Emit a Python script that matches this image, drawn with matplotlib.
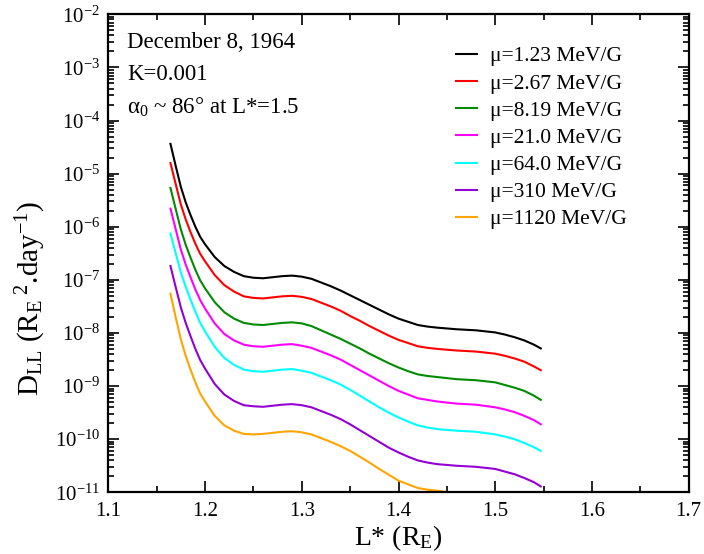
import numpy as np
import matplotlib
matplotlib.use("Agg")
import matplotlib.pyplot as plt
from matplotlib.ticker import FixedLocator, MultipleLocator, NullFormatter, FormatStrFormatter, LogFormatterSciNotation

plt.rcParams['font.family'] = ['Liberation Serif', 'DejaVu Serif']
plt.rcParams['mathtext.fontset'] = 'stix'
plt.rcParams['mathtext.default'] = 'regular'

# L* grid (R_E)
L_grid = [1.164, 1.17, 1.175, 1.18, 1.185, 1.19, 1.195, 1.20, 1.21, 1.22, 1.23, 1.24,
          1.25, 1.26, 1.27, 1.28, 1.29, 1.30, 1.31, 1.32, 1.33, 1.34, 1.35, 1.36,
          1.37, 1.38, 1.39, 1.40, 1.41, 1.42, 1.43, 1.44, 1.46, 1.48, 1.50, 1.51,
          1.52, 1.53, 1.54, 1.548]
L_orange = [1.164, 1.17, 1.175, 1.18, 1.185, 1.19, 1.195, 1.20, 1.21, 1.22, 1.23, 1.24,
            1.25, 1.26, 1.27, 1.28, 1.29, 1.30, 1.31, 1.32, 1.33, 1.34, 1.35, 1.36,
            1.37, 1.38, 1.39, 1.40, 1.41, 1.42, 1.43, 1.44, 1.46]

# log10(D_LL)
log_mu_1_23 = [-4.42, -4.88, -5.25, -5.54, -5.78, -6.00, -6.19, -6.33, -6.57, -6.74, -6.85, -6.93,
               -6.96, -6.97, -6.95, -6.93, -6.92, -6.94, -6.98, -7.05, -7.12, -7.20, -7.29, -7.38,
               -7.47, -7.56, -7.65, -7.73, -7.79, -7.85, -7.88, -7.90, -7.93, -7.95, -7.99, -8.03,
               -8.08, -8.14, -8.22, -8.30]
log_mu_2_67 = [-4.78, -5.22, -5.58, -5.86, -6.10, -6.32, -6.51, -6.65, -6.91, -7.10, -7.22, -7.31,
               -7.34, -7.35, -7.33, -7.31, -7.30, -7.32, -7.36, -7.43, -7.50, -7.58, -7.68, -7.77,
               -7.87, -7.96, -8.05, -8.13, -8.19, -8.25, -8.28, -8.30, -8.33, -8.35, -8.39, -8.43,
               -8.48, -8.54, -8.63, -8.71]
log_mu_8_19 = [-5.25, -5.69, -6.05, -6.34, -6.58, -6.81, -7.01, -7.16, -7.42, -7.61, -7.73, -7.81,
               -7.84, -7.85, -7.83, -7.81, -7.80, -7.82, -7.87, -7.95, -8.03, -8.11, -8.20, -8.29,
               -8.39, -8.48, -8.57, -8.65, -8.72, -8.78, -8.81, -8.83, -8.87, -8.89, -8.93, -8.98,
               -9.03, -9.09, -9.18, -9.27]
log_mu_21_0 = [-5.64, -6.07, -6.43, -6.71, -6.95, -7.18, -7.38, -7.54, -7.82, -8.02, -8.14, -8.22,
               -8.25, -8.26, -8.24, -8.22, -8.21, -8.24, -8.28, -8.35, -8.42, -8.50, -8.60, -8.70,
               -8.80, -8.90, -9.00, -9.09, -9.16, -9.23, -9.26, -9.29, -9.33, -9.35, -9.40, -9.44,
               -9.49, -9.56, -9.64, -9.73]
log_mu_64_0 = [-6.11, -6.52, -6.86, -7.13, -7.37, -7.60, -7.81, -7.97, -8.26, -8.47, -8.60, -8.69,
               -8.72, -8.73, -8.71, -8.69, -8.68, -8.71, -8.75, -8.82, -8.89, -8.97, -9.07, -9.18,
               -9.29, -9.40, -9.50, -9.59, -9.67, -9.74, -9.78, -9.81, -9.84, -9.86, -9.91, -9.95,
               -10.00, -10.07, -10.15, -10.23]
log_mu_310 = [-6.72, -7.16, -7.52, -7.81, -8.06, -8.30, -8.51, -8.67, -8.96, -9.16, -9.28, -9.36,
              -9.38, -9.39, -9.37, -9.35, -9.34, -9.36, -9.40, -9.47, -9.54, -9.62, -9.72, -9.83,
              -9.94, -10.05, -10.16, -10.25, -10.33, -10.40, -10.44, -10.47, -10.50, -10.52, -10.56, -10.61,
              -10.66, -10.73, -10.81, -10.90]
log_mu_1120 = [-7.24, -7.73, -8.12, -8.43, -8.69, -8.93, -9.14, -9.29, -9.56, -9.74, -9.84, -9.90,
               -9.91, -9.90, -9.88, -9.86, -9.85, -9.87, -9.91, -9.98, -10.05, -10.13, -10.22, -10.33,
               -10.44, -10.56, -10.67, -10.78, -10.85, -10.92, -10.95, -10.97, -11.02]

labels = ["μ=1.23 MeV/G", "μ=2.67 MeV/G", "μ=8.19 MeV/G", "μ=21.0 MeV/G",
          "μ=64.0 MeV/G", "μ=310 MeV/G", "μ=1120 MeV/G"]
colors = ["#000000", "#ff0000", "#008b00", "#ff00ff", "#00ffff", "#9400d3", "#ffa500"]

y_decades = list(range(-11, -1))   # 1e-11 ... 1e-2

series = [(L_grid, log_mu_1_23), (L_grid, log_mu_2_67), (L_grid, log_mu_8_19),
          (L_grid, log_mu_21_0), (L_grid, log_mu_64_0), (L_grid, log_mu_310),
          (L_orange, log_mu_1120)]

fig = plt.figure(figsize=(7.04, 5.54), dpi=100)
ax = fig.add_axes([108.3 / 704, 1 - 492.3 / 554, 580.4 / 704, 478.0 / 554])

for (xs, ys), lab, col in zip(series, labels, colors):
    ax.plot(xs, 10.0 ** np.array(ys), color=col, lw=1.5, label=lab,
            solid_joinstyle='round', solid_capstyle='butt')

ax.set_yscale('log')
ax.set_xlim(1.1, 1.7)
ax.set_ylim(10.0 ** y_decades[0], 10.0 ** y_decades[-1])
ax.xaxis.set_major_locator(MultipleLocator(0.1))
ax.xaxis.set_minor_locator(MultipleLocator(0.05))
major_y = [10.0 ** d for d in y_decades]
minor_y = [m * 10.0 ** d for d in y_decades[:-1] for m in range(2, 10)]
ax.yaxis.set_major_locator(FixedLocator(major_y))
ax.yaxis.set_minor_locator(FixedLocator(minor_y))
ax.yaxis.set_major_formatter(LogFormatterSciNotation())
ax.yaxis.set_minor_formatter(NullFormatter())
ax.xaxis.set_major_formatter(FormatStrFormatter('%.1f'))

ax.tick_params(which='both', direction='in', top=True, right=True, width=1.2)
ax.tick_params(which='major', length=8, labelsize=15)
ax.tick_params(which='minor', length=4.5)
ax.tick_params(axis='x', which='major', pad=7)
ax.tick_params(axis='y', which='major', pad=6)
for s in ax.spines.values():
    s.set_linewidth(1.6)

ax.set_xlabel('L* (R$_E$)', fontsize=20)
ax.xaxis.set_label_coords(0.499, -0.064)
ax.set_ylabel('D$_{LL}$ (R$_E$$^{\\ 2}$.day$^{-1}$)', fontsize=21)
ax.yaxis.set_label_coords(-0.104, 0.405)

ax.text(0.032, 0.940, 'December 8, 1964', transform=ax.transAxes, fontsize=16.5, va='center')
ax.text(0.032, 0.874, 'K=0.001', transform=ax.transAxes, fontsize=16.5, va='center')
ax.text(0.032, 0.806, r'$\alpha_0$ ~ 86° at L*=1.5', transform=ax.transAxes, fontsize=16.5, va='center')

ax.legend(loc='upper left', bbox_to_anchor=(0.597, 0.933), frameon=False, fontsize=15.5,
          handlelength=1.07, handletextpad=0.56, labelspacing=0.33, borderpad=0, borderaxespad=0)

fig.savefig('out.png', dpi=100)
